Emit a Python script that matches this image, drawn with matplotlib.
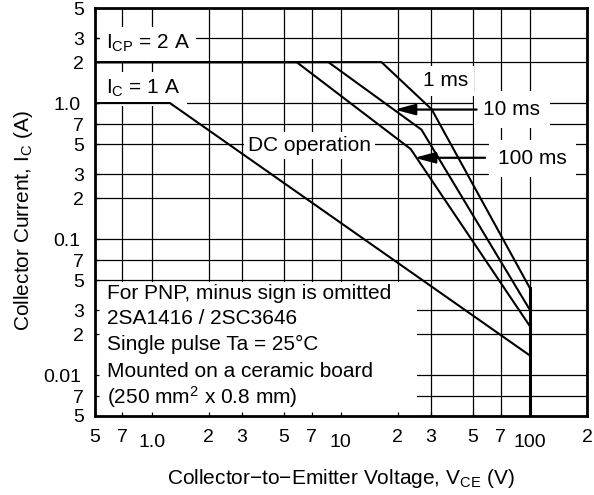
import matplotlib
matplotlib.use('Agg')
import matplotlib.pyplot as plt
from matplotlib.patches import Rectangle
from matplotlib.ticker import FixedLocator, FixedFormatter

plt.rcParams['font.family'] = ['Liberation Sans', 'DejaVu Sans']
plt.rcParams['mathtext.fontset'] = 'custom'
plt.rcParams['mathtext.rm'] = 'Liberation Sans'
plt.rcParams['mathtext.it'] = 'Liberation Sans:italic'
plt.rcParams['mathtext.bf'] = 'Liberation Sans:bold'

# ---- data (V_CE in V, I_C in A) ----
dc_v = [0.5, 1.25, 100]
dc_i = [1.0, 1.0, 0.0139]
ms100_v = [0.5, 5.84, 23.4, 100]
ms100_i = [2.0, 2.0, 0.459, 0.0228]
ms10_v = [0.5, 8.59, 26.7, 100]
ms10_i = [2.0, 2.0, 0.637, 0.030]
ms1_v = [0.5, 16.4, 30.2, 100]
ms1_i = [2.0, 2.0, 0.90, 0.0434]
limit_v = [100, 100]
limit_i = [0.0434, 0.005]

x_major = [1, 10, 100]
x_major_labels = ['1.0', '10', '100']
x_minor = [0.5, 0.7, 2, 3, 5, 7, 20, 30, 50, 70, 200]
x_minor_labels = ['5', '7', '2', '3', '5', '7', '2', '3', '5', '7', '2']
y_major = [0.01, 0.1, 1]
y_major_labels = ['0.01', '0.1', '1.0']
y_minor = [0.005, 0.007, 0.02, 0.03, 0.05, 0.07, 0.2, 0.3, 0.5, 0.7, 2, 3, 5]
y_minor_labels = ['5', '7', '2', '3', '5', '7', '2', '3', '5', '7', '2', '3', '5']

note_lines = ['For PNP, minus sign is omitted',
              '2SA1416 / 2SC3646',
              'Single pulse Ta = 25°C',
              'Mounted on a ceramic board',
              r'(250 mm$^\mathrm{2}$ x 0.8 mm)']

fig = plt.figure(figsize=(5.94, 4.95), dpi=100)
ax = fig.add_axes([0.1594, 0.1596, 0.8288, 0.8242])
ax.set_xscale('log')
ax.set_yscale('log')
ax.set_xlim(0.5, 200)
ax.set_ylim(0.005, 5)

# grid lines
for v in x_major + x_minor:
    ax.axvline(v, color='black', lw=0.9, zorder=0.8)
for v in y_major + y_minor:
    ax.axhline(v, color='black', lw=0.9, zorder=0.8)

# white note area
ax.add_patch(Rectangle((0, 0), 0.654, 0.329, transform=ax.transAxes,
                       facecolor='white', edgecolor='none', zorder=1))

lw = 1.5
for xv, yv in [(dc_v, dc_i), (ms100_v, ms100_i), (ms10_v, ms10_i), (ms1_v, ms1_i)]:
    ax.plot(xv, yv, color='black', lw=lw, zorder=3, solid_joinstyle='miter')
ax.plot(limit_v, limit_i, color='black', lw=2.2, zorder=3)

# ticks
ax.xaxis.set_major_locator(FixedLocator(x_major))
ax.xaxis.set_major_formatter(FixedFormatter(x_major_labels))
ax.xaxis.set_minor_locator(FixedLocator(x_minor))
ax.xaxis.set_minor_formatter(FixedFormatter(x_minor_labels))
ax.yaxis.set_major_locator(FixedLocator(y_major))
ax.yaxis.set_major_formatter(FixedFormatter(y_major_labels))
ax.yaxis.set_minor_locator(FixedLocator(y_minor))
ax.yaxis.set_minor_formatter(FixedFormatter(y_minor_labels))
ax.tick_params(axis='both', which='both', direction='in', length=3, width=0.9,
               labelsize=14, color='black')
ax.tick_params(axis='x', which='major', pad=13)
ax.tick_params(axis='x', which='minor', pad=9.5)
ax.tick_params(axis='y', which='major', pad=10)
ax.tick_params(axis='y', which='minor', pad=7.5)

for s in ax.spines.values():
    s.set_linewidth(2)
    s.set_zorder(4)

ax.set_xlabel(r'Collector−to−Emitter Voltage, V$_\mathrm{CE}$ (V)', fontsize=15)
ax.xaxis.set_label_coords(0.5, -0.152)
ax.xaxis.label.set_va('center')
ax.set_ylabel(r'Collector Current, I$_\mathrm{C}$ (A)', fontsize=15)
ax.yaxis.set_label_coords(-0.145, 0.478)
ax.yaxis.label.set_va('center')

fs = 15
box = dict(boxstyle='square,pad=0.3', facecolor='white', edgecolor='none')
ax.text(0.576, 2.49, r'I$_\mathrm{CP}$ = 2 A', fontsize=fs, va='baseline',
        ha='left', bbox=box, zorder=2)
ax.text(0.576, 1.164, r'I$_\mathrm{C}$ = 1 A', fontsize=fs, va='baseline',
        ha='left', bbox=box, zorder=2)
ax.text(3.24, 0.446, 'DC operation', fontsize=fs, va='baseline', ha='left',
        bbox=dict(boxstyle='square,pad=0.2', facecolor='white', edgecolor='none'), zorder=2)
ax.text(27.3, 1.327, '1 ms', fontsize=fs, va='baseline', ha='left',
        bbox=dict(boxstyle='square,pad=0.25', facecolor='white', edgecolor='none'), zorder=2)
ax.text(56.7, 0.816, '10 ms', fontsize=fs, va='baseline', ha='left',
        bbox=dict(boxstyle='square,pad=0.45', facecolor='white', edgecolor='none'), zorder=2)
ax.text(68, 0.356, '100 ms', fontsize=fs, va='baseline', ha='left',
        bbox=dict(boxstyle='square,pad=0.45', facecolor='white', edgecolor='none'), zorder=2)

arrow = dict(arrowstyle='-|>,head_length=0.9,head_width=0.24', mutation_scale=14,
             lw=1.6, color='black', shrinkA=0, shrinkB=0)
ax.annotate('', xy=(19.2, 0.896), xytext=(52.2, 0.896), arrowprops=arrow, zorder=3)
ax.annotate('', xy=(24.5, 0.396), xytext=(57.8, 0.396), arrowprops=arrow, zorder=3)

baselines = [0.2875, 0.2248, 0.161, 0.0956, 0.030]
for line, yb in zip(note_lines, baselines):
    ax.text(0.025, yb, line, transform=ax.transAxes, fontsize=fs,
            va='baseline', ha='left', zorder=2)

fig.savefig('out.png', dpi=100)
